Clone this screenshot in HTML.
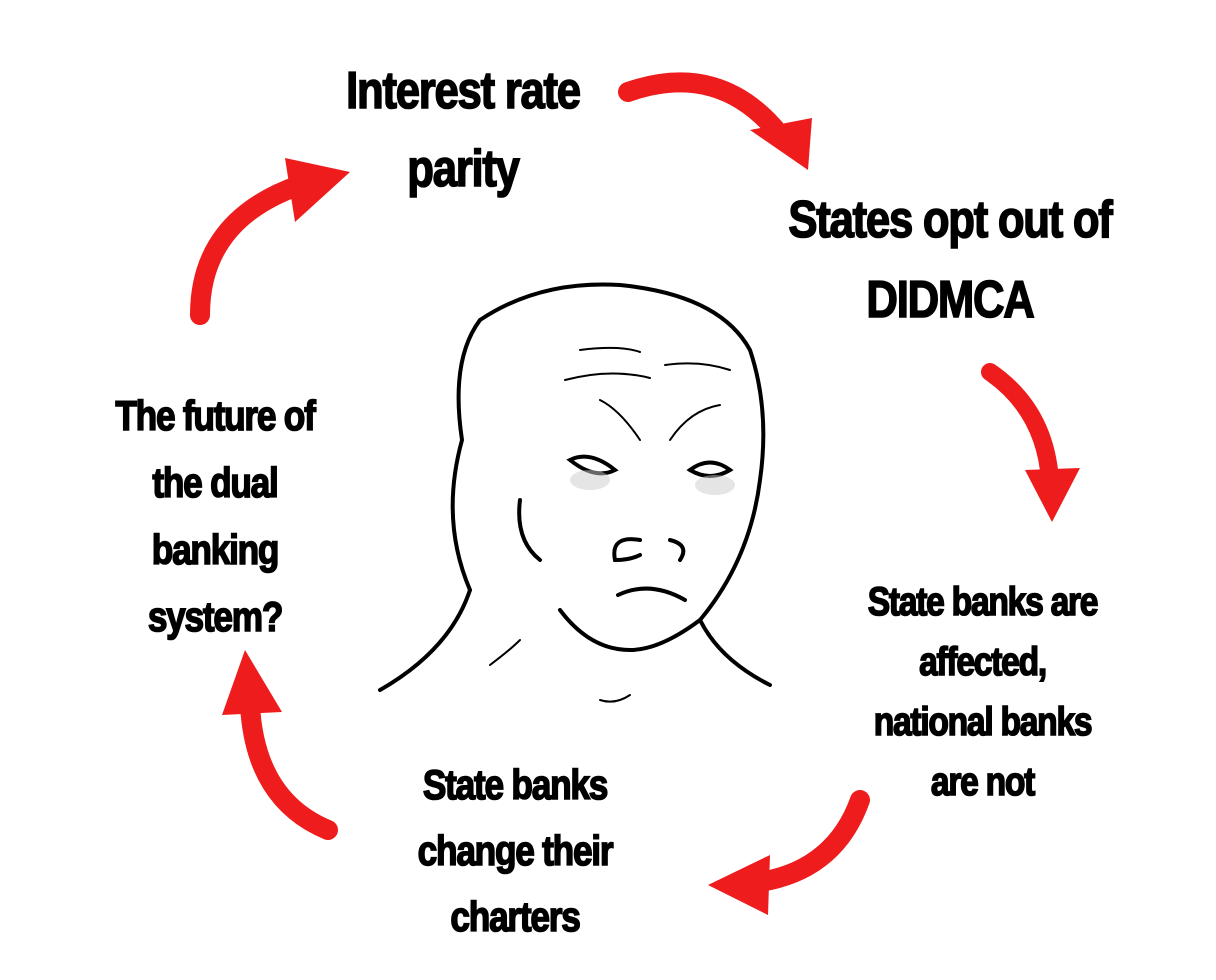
<!DOCTYPE html>
<html><head><meta charset="utf-8"><style>
body{margin:0;width:1216px;height:980px;background:#fff;overflow:hidden;position:relative}
.t{position:absolute;font-family:"Liberation Sans Narrow","Liberation Sans",sans-serif;font-weight:bold;color:#000;text-align:center;transform:scaleX(0.84);letter-spacing:-1.5px;white-space:nowrap;-webkit-text-stroke:1.6px #000}
</style></head><body>
<svg width="1216" height="980" style="position:absolute;left:0;top:0">
<g fill="none" stroke="#ee1c1c" stroke-linecap="round">
<path d="M628 92 Q720 60 780 135" stroke-width="20"/>
<path d="M990 372 Q1045 410 1050 480" stroke-width="18"/>
<path d="M860 800 Q835 870 760 882" stroke-width="20"/>
<path d="M328 830 Q255 800 250 705" stroke-width="20"/>
<path d="M200 315 Q200 220 300 185" stroke-width="20"/>
</g>
<g fill="#ee1c1c">
<polygon points="750,130 812,118 808,170"/>
<polygon points="1025,470 1080,468 1052,522"/>
<polygon points="770,855 768,915 708,885"/>
<polygon points="222,715 282,712 245,650"/>
<polygon points="285,158 350,172 295,222"/>
</g>
<g fill="none" stroke="#000" stroke-width="4" stroke-linecap="round">
<path d="M470 590 Q440 520 462 440 Q450 360 480 320 Q540 280 620 285 Q720 295 750 350 Q770 410 760 480 Q750 560 700 620 Q660 650 630 650 Q590 650 560 610"/>
<path d="M470 590 Q450 650 380 690"/>
<path d="M700 620 Q720 660 770 685"/>
<path d="M520 500 Q515 540 540 560"/>
<path d="M570 460 Q590 450 615 470 Q595 480 570 460Z"/>
<path d="M690 470 Q710 455 730 470 Q710 482 690 470Z"/>
<path d="M618 595 Q650 580 685 600"/>
<path d="M640 540 Q610 535 615 560 Q630 560 640 555"/>
<path d="M670 540 Q690 545 680 560"/>
<path d="M580 350 Q620 345 640 352" stroke-width="2"/>
<path d="M565 380 Q610 368 650 378" stroke-width="2"/>
<path d="M600 400 Q620 410 640 440" stroke-width="2"/>
<path d="M670 440 Q690 410 720 405" stroke-width="2"/>
<path d="M665 365 Q700 360 730 370" stroke-width="2"/>
<path d="M490 665 Q510 650 520 640" stroke-width="2"/>
<path d="M600 700 Q615 705 630 695" stroke-width="2"/>
</g>
<ellipse cx="590" cy="480" rx="20" ry="10" fill="#ccc" opacity=".5"/>
<ellipse cx="715" cy="485" rx="20" ry="10" fill="#ccc" opacity=".5"/>
</svg>
<div class="t" style="left:263px;top:52px;width:400px;font-size:52px;line-height:78px">Interest rate<br>parity</div>
<div class="t" style="left:750px;top:180px;width:400px;font-size:52px;line-height:80px">States opt out of<br>DIDMCA</div>
<div class="t" style="left:40px;top:382px;width:350px;font-size:42px;line-height:67px">The future of<br>the dual<br>banking<br>system?</div>
<div class="t" style="left:800px;top:572px;width:365px;font-size:40px;line-height:60px">State banks are<br>affected,<br>national banks<br>are not</div>
<div class="t" style="left:340px;top:752px;width:350px;font-size:42px;line-height:66px">State banks<br>change their<br>charters</div>
</body></html>
